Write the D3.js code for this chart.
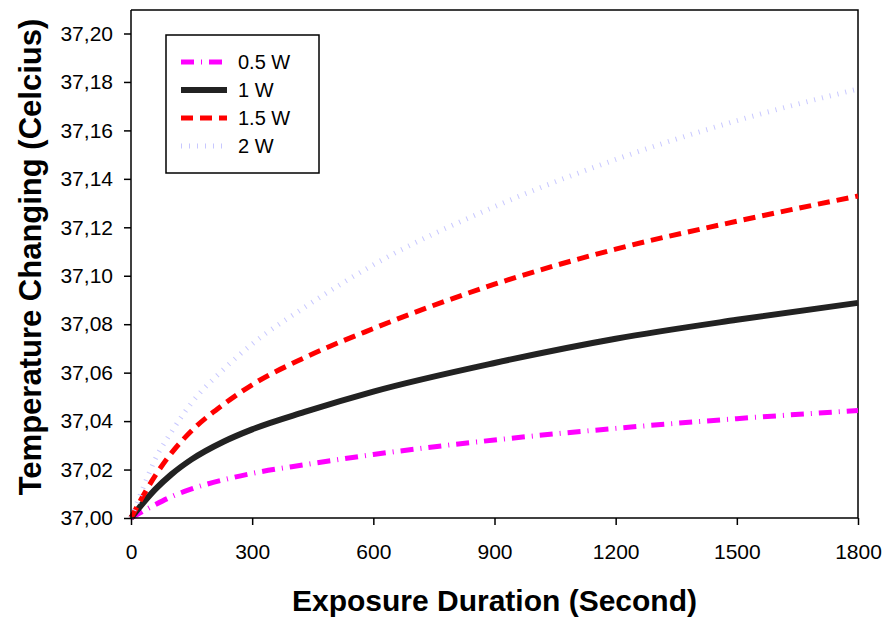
<!DOCTYPE html>
<html>
<head>
<meta charset="utf-8">
<script src="https://cdn.jsdelivr.net/npm/d3@7"></script>
<style>
  body { margin: 0; background: #fff; }
  text { font-family: "Liberation Sans", Arial, sans-serif; }
</style>
</head>
<body>
<div id="chart"></div>
<script>
var svgWidth = 888;
var svgHeight = 620;

var margin = { top: 10, right: 30, bottom: 102, left: 131 };
var width = svgWidth - margin.left - margin.right;
var height = svgHeight - margin.top - margin.bottom;

// data (seconds, degrees C)
var times = [0, 30, 60, 100, 150, 230, 300, 430, 600, 900, 1200, 1500, 1800];
var w05 = [37.000, 37.0028, 37.0055, 37.0088, 37.0120, 37.0158, 37.0184, 37.0220, 37.0262, 37.0322, 37.0370, 37.0410, 37.0444];
var w10 = [37.000, 37.0062, 37.0118, 37.0180, 37.0242, 37.0316, 37.0366, 37.0438, 37.0522, 37.0640, 37.0740, 37.0818, 37.0888];
var w15 = [37.000, 37.0092, 37.0175, 37.0268, 37.0360, 37.0470, 37.0550, 37.0662, 37.0782, 37.0965, 37.1110, 37.1225, 37.1329];
var w20 = [37.000, 37.0125, 37.0243, 37.0355, 37.0475, 37.0615, 37.0718, 37.0870, 37.1045, 37.1285, 37.1480, 37.1640, 37.1771];

var seriesNames = ["0.5 W", "1 W", "1.5  W", "2 W"];
var xTicks = [0, 300, 600, 900, 1200, 1500, 1800];
var yTicks = [37.00, 37.02, 37.04, 37.06, 37.08, 37.10, 37.12, 37.14, 37.16, 37.18, 37.20];

var styles = [
  { color: "#ff00ff", width: 5, dash: "13 7 1 7" },
  { color: "#222222", width: 6, dash: null },
  { color: "#ff0000", width: 5, dash: "12 7" },
  { color: "#c8c8ff", width: 5, dash: "1 7" }
];

var seriesData = [w05, w10, w15, w20].map(function(vals) {
  return vals.map(function(v, i) { return { t: times[i], v: v }; });
});

var svg = d3.select("#chart")
  .append("svg")
  .attr("width", svgWidth)
  .attr("height", svgHeight);

var chartGroup = svg.append("g")
  .attr("transform", `translate(${margin.left}, ${margin.top})`);

var xScale = d3.scaleLinear().domain([0, 1800]).range([0, width]);
var yScale = d3.scaleLinear().domain([37.0, 37.2097]).range([height, 0]);

// frame on top and right
chartGroup.append("path")
  .attr("d", `M0,0H${width}V${height}`)
  .attr("fill", "none")
  .attr("stroke", "#000")
  .attr("stroke-width", 1.5);

// lines
var line = d3.line()
  .x(d => xScale(d.t))
  .y(d => yScale(d.v))
  .curve(d3.curveMonotoneX);

chartGroup.selectAll(".series")
  .data(seriesData)
  .enter()
  .append("path")
  .attr("class", "series")
  .attr("d", line)
  .attr("fill", "none")
  .attr("stroke", (d, i) => styles[i].color)
  .attr("stroke-width", (d, i) => styles[i].width)
  .attr("stroke-dasharray", (d, i) => styles[i].dash);

// axes
var bottomAxis = d3.axisBottom(xScale)
  .tickValues(xTicks)
  .tickSizeInner(7)
  .tickSizeOuter(0)
  .tickPadding(19)
  .tickFormat(d3.format("d"));

var leftAxis = d3.axisLeft(yScale)
  .tickValues(yTicks)
  .tickSizeInner(7)
  .tickSizeOuter(0)
  .tickPadding(11)
  .tickFormat(d => d3.format(".2f")(d).replace(".", ","));

var xAxis = chartGroup.append("g")
  .attr("transform", `translate(0, ${height})`)
  .call(bottomAxis);

var yAxis = chartGroup.append("g")
  .call(leftAxis);

[xAxis, yAxis].forEach(function(ax) {
  ax.select(".domain").attr("stroke-width", 1.5);
  ax.selectAll(".tick line").attr("stroke-width", 1.5);
  ax.selectAll(".tick text")
    .attr("font-family", "Liberation Sans, Arial, sans-serif")
    .attr("font-size", "21px")
    .attr("fill", "#000");
});
yAxis.select(".domain").attr("d", `M0,${height}V0`);
xAxis.select(".domain").attr("d", `M0,0H${width}`);

// axis titles
chartGroup.append("text")
  .attr("x", width / 2)
  .attr("y", height + 93)
  .attr("text-anchor", "middle")
  .attr("font-weight", "bold")
  .attr("font-size", "30px")
  .text("Exposure Duration (Second)");

chartGroup.append("text")
  .attr("transform", "rotate(-90)")
  .attr("x", -(height / 2) + 7)
  .attr("y", -margin.left + 41)
  .attr("text-anchor", "middle")
  .attr("font-weight", "bold")
  .attr("font-size", "31px")
  .text("Temperature Changing (Celcius)");

// legend
var legend = svg.append("g")
  .attr("transform", "translate(166, 35)");

legend.append("rect")
  .attr("width", 153)
  .attr("height", 138)
  .attr("fill", "#fff")
  .attr("stroke", "#000")
  .attr("stroke-width", 1.5);

var legendRows = legend.selectAll(".row")
  .data(seriesNames)
  .enter()
  .append("g")
  .attr("class", "row")
  .attr("transform", (d, i) => `translate(0, ${27 + i * 28})`);

legendRows.append("line")
  .attr("x1", 15)
  .attr("x2", 61)
  .attr("stroke", (d, i) => styles[i].color)
  .attr("stroke-width", (d, i) => styles[i].width)
  .attr("stroke-dasharray", (d, i) => styles[i].dash);

legendRows.append("text")
  .attr("x", 72)
  .attr("y", 7)
  .attr("font-size", "20px")
  .text(d => d);
</script>
</body>
</html>
